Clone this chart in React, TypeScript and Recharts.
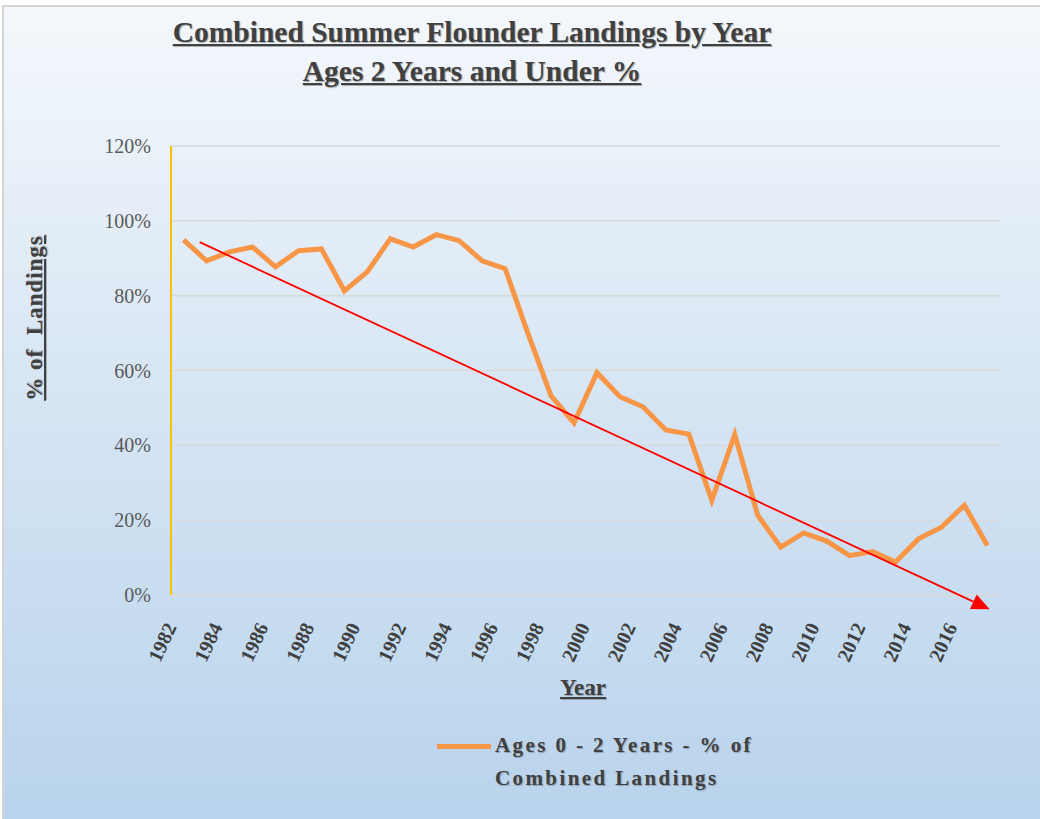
import { LineChart, Line, XAxis, YAxis, CartesianGrid, ReferenceLine } from 'recharts';

const years = [
  1982, 1983, 1984, 1985, 1986, 1987, 1988, 1989, 1990, 1991, 1992, 1993,
  1994, 1995, 1996, 1997, 1998, 1999, 2000, 2001, 2002, 2003, 2004, 2005,
  2006, 2007, 2008, 2009, 2010, 2011, 2012, 2013, 2014, 2015, 2016, 2017,
];

// % of combined landings, ages 0-2
const ages02 = [
  94.9, 89.3, 91.7, 93.0, 87.7, 92.0, 92.5, 81.3, 86.4, 95.2, 93.0, 96.3,
  94.7, 89.3, 87.2, 69.8, 53.2, 46.0, 59.4, 53.0, 50.3, 44.1, 43.0, 25.3,
  42.9, 21.3, 12.8, 16.6, 14.4, 10.5, 11.6, 8.8, 15.0, 18.1, 24.0, 13.2,
];

const yearTicks = [1982, 1984, 1986, 1988, 1990, 1992, 1994, 1996, 1998, 2000, 2002, 2004, 2006, 2008, 2010, 2012, 2014, 2016];
const pctTicks = [0, 20, 40, 60, 80, 100, 120];

// hand-drawn trend arrow, start and end in data units
const trendStart = { year: 1982.7, pct: 94.3 };
const trendEnd = { year: 2017.1, pct: -3.8 };

const data = years.map((year, i) => ({ year, ages02: ages02[i] }));

const serif = '"Liberation Serif", "DejaVu Serif", serif';
const textColor = '#404040';

const YearTick = (props: any) => {
  const { x, y, payload } = props;
  const tx = x - 13;
  const ty = y + 21;
  return (
    <text
      x={tx}
      y={ty}
      transform={`rotate(-65, ${tx}, ${ty})`}
      textAnchor="end"
      dominantBaseline="central"
      fontFamily={serif}
      fontSize={20}
      fontWeight="bold"
      fill={textColor}
    >
      {payload.value}
    </text>
  );
};

const TrendArrow = (props: any) => {
  const { x1, y1, x2, y2 } = props;
  if (x1 == null || x2 == null) return null;
  const ang = Math.atan2(y2 - y1, x2 - x1);
  const len = 18;
  const half = 8;
  const bx = x2 - len * Math.cos(ang);
  const by = y2 - len * Math.sin(ang);
  const p1 = `${bx + half * Math.sin(ang)},${by - half * Math.cos(ang)}`;
  const p2 = `${bx - half * Math.sin(ang)},${by + half * Math.cos(ang)}`;
  return (
    <g>
      <line x1={x1} y1={y1} x2={bx} y2={by} stroke="#ff0000" strokeWidth={1.8} />
      <polygon points={`${x2},${y2} ${p1} ${p2}`} fill="#ff0000" />
    </g>
  );
};

export default function App() {
  return (
    <div
      style={{
        position: 'absolute',
        left: 0,
        top: 0,
        width: 1040,
        height: 819,
        background: '#ffffff',
        overflow: 'hidden',
      }}
    >
      <div
        style={{
          position: 'absolute',
          left: 2,
          top: 5,
          width: 1040,
          height: 819,
          borderLeft: '2px solid #d4d4d4',
          borderTop: '2px solid #d4d4d4',
          background: 'linear-gradient(to bottom, #f4f8fc 0%, #dbe8f5 40%, #b8d3ec 100%)',
        }}
      />
      <div
        style={{
          position: 'absolute',
          left: 0,
          top: 13,
          width: 944,
          textAlign: 'center',
          fontFamily: serif,
          fontWeight: 'bold',
          fontSize: 29.5,
          lineHeight: '39px',
          color: textColor,
          textDecoration: 'underline',
          textShadow: '1px 1px 1px rgba(0,0,0,0.3)',
        }}
      >
        <div>Combined Summer Flounder Landings by Year</div>
        <div>Ages 2 Years and Under %</div>
      </div>
      <div
        style={{
          position: 'absolute',
          left: 35,
          top: 318,
          transform: 'translate(-50%, -50%) rotate(-90deg)',
          whiteSpace: 'nowrap',
          fontFamily: serif,
          fontWeight: 'bold',
          fontSize: 23,
          letterSpacing: 1,
          color: textColor,
          textDecoration: 'underline',
          textShadow: '1px 1px 1px rgba(0,0,0,0.25)',
        }}
      >
        % of&nbsp; Landings
      </div>
      <div
        style={{
          position: 'absolute',
          left: 583,
          top: 688,
          transform: 'translate(-50%, -50%)',
          fontFamily: serif,
          fontWeight: 'bold',
          fontSize: 23,
          color: textColor,
          textDecoration: 'underline',
          textShadow: '1px 1px 1px rgba(0,0,0,0.25)',
        }}
      >
        Year
      </div>
      <div
        style={{
          position: 'absolute',
          left: 437,
          top: 729,
          display: 'flex',
          fontFamily: serif,
          fontWeight: 'bold',
          fontSize: 21,
          color: textColor,
          letterSpacing: 2.4,
          lineHeight: '33px',
          whiteSpace: 'nowrap',
          textShadow: '1px 1px 1px rgba(0,0,0,0.25)',
        }}
      >
        <div style={{ width: 54, height: 5, background: '#f79646', marginTop: 15, marginRight: 4 }} />
        <div>
          <div>Ages 0 - 2 Years - % of</div>
          <div>Combined Landings</div>
        </div>
      </div>
      <div style={{ position: 'absolute', left: 0, top: 0 }}>
        <LineChart width={1040} height={819} data={data} margin={{ top: 146, right: 40, bottom: 0, left: 91 }}>
          <CartesianGrid vertical={false} stroke="#d9d9d9" strokeWidth={1.5} />
          <XAxis
            dataKey="year"
            type="number"
            domain={[1981.45, 2017.55]}
            ticks={yearTicks}
            interval={0}
            axisLine={false}
            tickLine={false}
            tick={<YearTick />}
            height={224}
          />
          <YAxis
            domain={[0, 120]}
            ticks={pctTicks}
            allowDataOverflow
            width={80}
            axisLine={{ stroke: '#ffc000', strokeWidth: 2 }}
            tickLine={false}
            tickSize={0}
            tickMargin={20}
            tickFormatter={(v: number) => `${v}%`}
            tick={{ fontFamily: serif, fontSize: 20, fill: '#595959' }}
          />
          <Line
            type="linear"
            dataKey="ages02"
            stroke="#f79646"
            strokeWidth={5}
            dot={false}
            isAnimationActive={false}
          />
          <ReferenceLine
            segment={[
              { x: trendStart.year, y: trendStart.pct },
              { x: trendEnd.year, y: trendEnd.pct },
            ]}
            ifOverflow="visible"
            shape={<TrendArrow />}
          />
        </LineChart>
      </div>
    </div>
  );
}
